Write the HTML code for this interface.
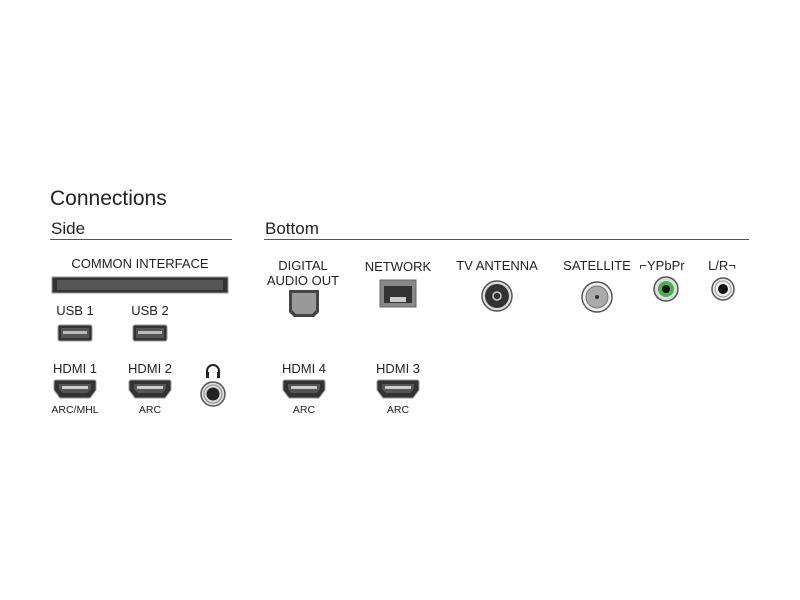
<!DOCTYPE html>
<html><head><meta charset="utf-8"><style>body{margin:0;background:#fff}svg{display:block}text{font-family:"Liberation Sans",sans-serif;fill:#222}</style></head>
<body>
<svg width="800" height="600" viewBox="0 0 800 600">
<defs>
<g id="hdmi"><path d="M0,2 Q0,0 2,0 H40 Q42,0 42,2 V10 L36,18 H6 L0,10 Z" fill="#333" stroke="#999" stroke-width="1"/><path d="M5,4 H37 V9 L33,13 H9 L5,9 Z" fill="#555"/><rect x="8" y="6" width="26" height="3" fill="#ccc"/></g>
<g id="usb"><rect x="0" y="0" width="34" height="16" rx="2" fill="#333" stroke="#999"/><rect x="3" y="3" width="28" height="10" fill="#555"/><rect x="5" y="6" width="24" height="3" fill="#bbb"/></g>
</defs>
<text x="50" y="205" font-size="21" fill="#333">Connections</text>
<text x="51" y="234" font-size="17" fill="#333">Side</text>
<line x1="50" y1="239.5" x2="232" y2="239.5" stroke="#555"/>
<text x="265" y="234" font-size="17" fill="#333">Bottom</text>
<line x1="264" y1="239.5" x2="749" y2="239.5" stroke="#555"/>
<g font-size="13" text-anchor="middle">
<text x="140" y="268">COMMON INTERFACE</text>
<text x="75" y="315">USB 1</text><text x="150" y="315">USB 2</text>
<text x="75" y="373">HDMI 1</text><text x="150" y="373">HDMI 2</text>
<text x="303" y="270">DIGITAL</text><text x="303" y="285">AUDIO OUT</text>
<text x="398" y="271">NETWORK</text>
<text x="497" y="270">TV ANTENNA</text>
<text x="597" y="270">SATELLITE</text>
<text x="662" y="270">⌐YPbPr</text>
<text x="722" y="270">L/R¬</text>
<text x="304" y="373">HDMI 4</text><text x="398" y="373">HDMI 3</text>
</g>
<g font-size="10.5" text-anchor="middle">
<text x="75" y="413">ARC/MHL</text><text x="150" y="413">ARC</text>
<text x="304" y="413">ARC</text><text x="398" y="413">ARC</text>
</g>
<rect x="52" y="277" width="176" height="16" fill="#333" stroke="#999"/>
<rect x="57" y="280" width="166" height="10" fill="#555"/>
<use href="#usb" x="58" y="325"/><use href="#usb" x="133" y="325"/>
<use href="#hdmi" x="54" y="380"/><use href="#hdmi" x="129" y="380"/>
<use href="#hdmi" x="283" y="380"/><use href="#hdmi" x="377" y="380"/>
<path d="M207,378 V371 A6,6 0 0 1 219,371 V378" fill="none" stroke="#222" stroke-width="2"/>
<rect x="206" y="372" width="3" height="6" fill="#222"/><rect x="217" y="372" width="3" height="6" fill="#222"/>
<circle cx="213" cy="394" r="12" fill="#ddd" stroke="#555" stroke-width="1.5"/><circle cx="213" cy="394" r="9" fill="none" stroke="#888"/><circle cx="213" cy="394" r="6.5" fill="#222"/>
<path d="M289,290 H319 V312 L314,317 H294 L289,312 Z" fill="#444"/><path d="M292,293 H316 V310 L312,314 H296 L292,310 Z" fill="#999"/>
<rect x="380" y="280" width="36" height="27" fill="#888" stroke="#666"/><path d="M384,286 H412 V303 H384 Z" fill="#333"/><rect x="390" y="297" width="16" height="5" fill="#ccc"/>
<circle cx="497" cy="296" r="15" fill="#ddd" stroke="#555" stroke-width="1.5"/><circle cx="497" cy="296" r="12" fill="#333"/><circle cx="497" cy="296" r="4" fill="none" stroke="#ccc" stroke-width="1.5"/>
<circle cx="597" cy="297" r="15" fill="#eee" stroke="#555" stroke-width="1.5"/><circle cx="597" cy="297" r="11" fill="#aaa" stroke="#777"/><circle cx="597" cy="297" r="2" fill="#333"/>
<circle cx="666" cy="289" r="12" fill="#ddd" stroke="#555" stroke-width="1.5"/><circle cx="666" cy="289" r="8" fill="#4caf50"/><circle cx="666" cy="289" r="4" fill="#111"/>
<circle cx="723" cy="289" r="11" fill="#eee" stroke="#555" stroke-width="1.5"/><circle cx="723" cy="289" r="8" fill="none" stroke="#999"/><circle cx="723" cy="289" r="5" fill="#111"/>
</svg>
</body></html>
